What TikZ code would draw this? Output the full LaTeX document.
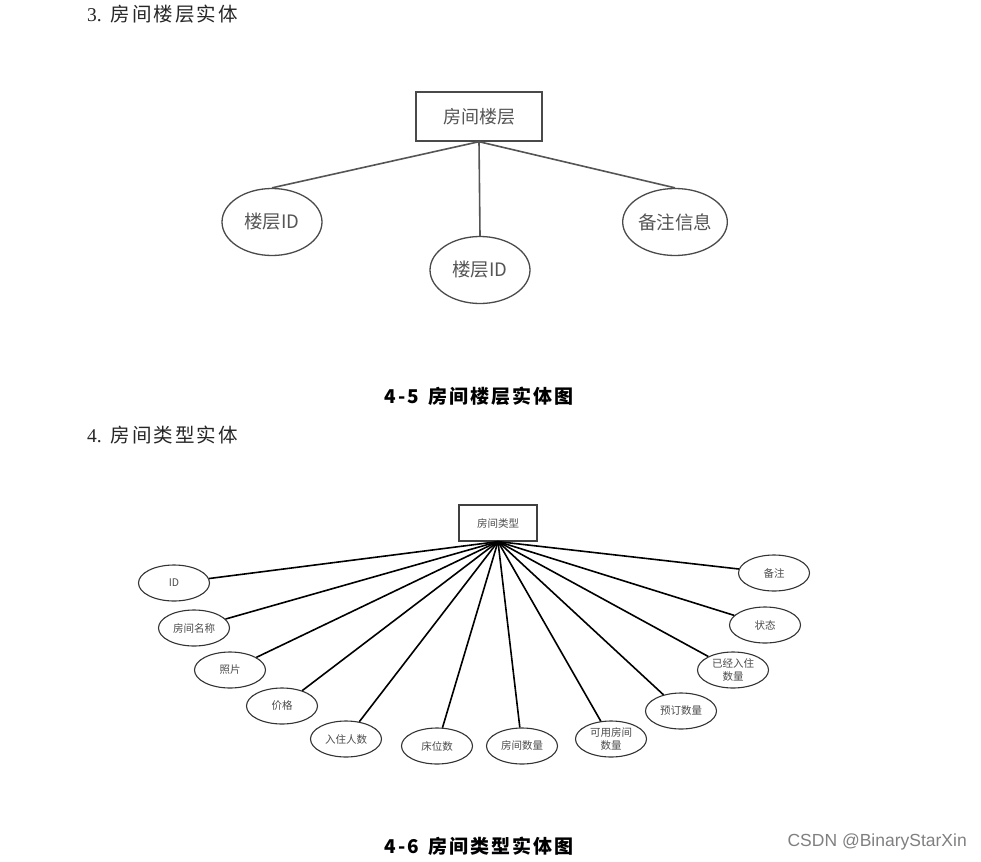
\documentclass[tikz,border=0pt]{standalone}
\usepackage{fontspec}
\newfontfamily\cjk{Noto Sans CJK SC}
\newfontfamily\cjkh[LetterSpace=10]{Noto Sans CJK SC}
\newfontfamily\serifnum{Liberation Serif}
\setmainfont{Liberation Sans}
\usetikzlibrary{shapes.geometric}
\definecolor{tgrey}{HTML}{555555}
\definecolor{lgrey}{HTML}{4A4A4A}
\definecolor{wm}{HTML}{808080}
\tikzset{
  heading/.style={anchor=west,inner sep=0pt,text=black!85,font=\cjkh\fontsize{19.5}{19.5}\selectfont},
  caption/.style={inner sep=0pt,text=black,font=\cjkh\bfseries\fontsize{19}{19}\selectfont},
  topent/.style={draw=lgrey,line width=1.4pt,minimum width=126pt,minimum height=49pt,text=tgrey,font=\cjk\fontsize{18}{18}\selectfont,inner sep=0pt},
  topattr/.style={ellipse,draw=lgrey,line width=1.3pt,minimum width=100pt,minimum height=67pt,text=tgrey,font=\cjk\fontsize{18.5}{18.5}\selectfont,inner sep=0pt},
  toplink/.style={draw=tgrey,line width=1.6pt},
  botent/.style={draw=black!75,line width=1.2pt,minimum width=78pt,minimum height=36pt,text=black!70,font=\cjk\fontsize{10.5}{10.5}\selectfont,inner sep=0pt},
  botattr/.style={ellipse,draw=black!80,line width=1.1pt,minimum width=71pt,minimum height=36pt,text=black!70,font=\cjk\fontsize{10.5}{12.5}\selectfont,inner sep=0pt,align=center},
  botlink/.style={draw=black,line width=1.6pt}
}
\begin{document}
\begin{tikzpicture}[x=1pt,y=-1pt]
\useasboundingbox[fill=white] (0,0) rectangle (981,861);

% ---------- section 3 ----------
\node[heading] (h3) at (87,14) {{\serifnum 3.}\hspace{9pt}房间楼层实体};
\node[topent] (floor) at (479,116.5) {房间楼层};
\node[topattr] (fid1) at (272,222) {楼层ID};
\node[topattr] (fid2) at (480,270) {楼层ID};
\node[topattr] (note1) at (675,222) {备注信息};
\draw[toplink] (floor.south) -- (fid1.north);
\draw[toplink] (floor.south) -- (fid2.north);
\draw[toplink] (floor.south) -- (note1.north);
\node[caption] (c45) at (479,396) {4-5\hspace{10pt}房间楼层实体图};

% ---------- section 4 ----------
\node[heading] (h4) at (87,435) {{\serifnum 4.}\hspace{9pt}房间类型实体};
\node[botent] (rtype) at (498,523) {房间类型};
\coordinate (apex) at (rtype.south);

\node[botattr] (a1)  at (174,583) {ID};
\node[botattr] (a2)  at (194,628) {房间名称};
\node[botattr] (a3)  at (230,670) {照片};
\node[botattr] (a4)  at (282,706) {价格};
\node[botattr] (a5)  at (346,739) {入住人数};
\node[botattr] (a6)  at (437,746) {床位数};
\node[botattr] (a7)  at (522,746) {房间数量};
\node[botattr] (a8)  at (611,739) {可用房间\\数量};
\node[botattr] (a9)  at (681,711) {预订数量};
\node[botattr] (a10) at (733,670) {已经入住\\数量};
\node[botattr] (a11) at (765,625) {状态};
\node[botattr] (a12) at (774,573) {备注};

\foreach \n in {a1,a2,a3,a4,a5,a6,a7,a8,a9,a10,a11,a12}
  \draw[botlink] (apex) -- (\n);

\node[caption] (c46) at (479,846) {4-6\hspace{10pt}房间类型实体图};
\node[anchor=east,inner sep=0pt,text=wm,font=\fontsize{17.5}{17.5}\selectfont] (wmk) at (967,842) {CSDN @BinaryStarXin};
\end{tikzpicture}
\end{document}
